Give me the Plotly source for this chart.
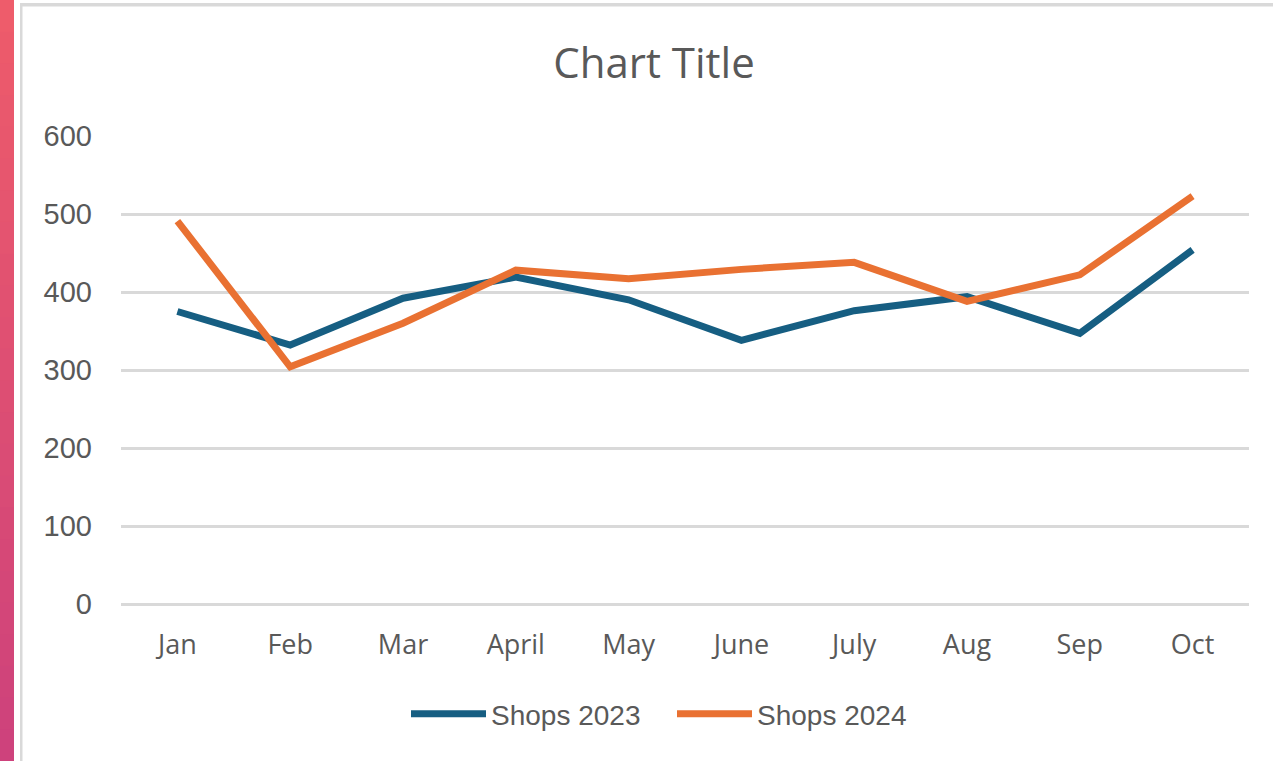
import plotly.graph_objects as go

months = ["Jan", "Feb", "Mar", "April", "May", "June", "July", "Aug", "Sep", "Oct"]
shops_2023 = [375, 332, 392, 419, 390, 338, 376, 394, 347, 454]
shops_2024 = [491, 304, 360, 428, 417, 429, 438, 388, 422, 523]
y_ticks = [0, 100, 200, 300, 400, 500, 600]

W, H = 1273, 761
L, R, T, B = 121, 1249, 136, 604

def px(x):
    return (x - L) / (R - L)

def py(y):
    return (B - y) / (B - T)

fig = go.Figure()
fig.add_trace(go.Scatter(x=months, y=shops_2023, mode="lines", name="Shops 2023",
                         line=dict(color="#165E82", width=7)))
fig.add_trace(go.Scatter(x=months, y=shops_2024, mode="lines", name="Shops 2024",
                         line=dict(color="#E97132", width=7)))

shapes = []
# pink gradient strip on the left
c0 = (238, 92, 107)
c1 = (206, 66, 124)
n = 24
for i in range(n):
    t = i / (n - 1)
    col = tuple(int(c0[k] + (c1[k] - c0[k]) * t) for k in range(3))
    y0 = i * H / n
    y1 = (i + 1) * H / n + 1
    shapes.append(dict(type="rect", xref="paper", yref="paper",
                       x0=px(0), x1=px(14), y0=py(y1), y1=py(y0),
                       fillcolor="rgb(%d,%d,%d)" % col, line=dict(width=0), layer="below"))
# gray frame
shapes.append(dict(type="rect", xref="paper", yref="paper",
                   x0=px(20), x1=px(22.5), y0=py(H + 2), y1=py(3),
                   fillcolor="#D9D9D9", line=dict(width=0), layer="below"))
shapes.append(dict(type="rect", xref="paper", yref="paper",
                   x0=px(20), x1=px(W + 2), y0=py(6.5), y1=py(3),
                   fillcolor="#D9D9D9", line=dict(width=0), layer="below"))

fig.update_layout(
    width=W, height=H,
    margin=dict(l=L, r=W - R, t=T, b=H - B),
    paper_bgcolor="white", plot_bgcolor="white",
    title=dict(text="Chart Title", x=654 / W, xref="container", xanchor="center",
               y=1 - 63 / H, yref="container", yanchor="middle",
               font=dict(family="Open Sans", size=42, color="#595959")),
    xaxis=dict(type="category", range=[-0.5, 9.5], showgrid=False, zeroline=False,
               showline=False, ticks="", tickfont=dict(family="Open Sans", size=27, color="#595959"),
               ticklabelstandoff=22),
    yaxis=dict(range=[0, 600], tickvals=y_ticks, showgrid=True, gridcolor="#D9D9D9",
               gridwidth=2.5, zeroline=True, zerolinecolor="#D9D9D9", zerolinewidth=2.5,
               showline=False, ticks="",
               tickfont=dict(family="Liberation Sans", size=29, color="#595959"),
               ticklabelstandoff=28),
    legend=dict(orientation="h", x=px(406), xanchor="left", y=py(714), yanchor="middle",
                font=dict(family="Liberation Sans", size=28, color="#595959"),
                itemwidth=75, tracegroupgap=0, entrywidth=176, entrywidthmode="pixels"),
    shapes=shapes,
    showlegend=True,
)

fig.write_html("out.html", config={"displayModeBar": False},
               post_script="document.body.style.margin='0';")
